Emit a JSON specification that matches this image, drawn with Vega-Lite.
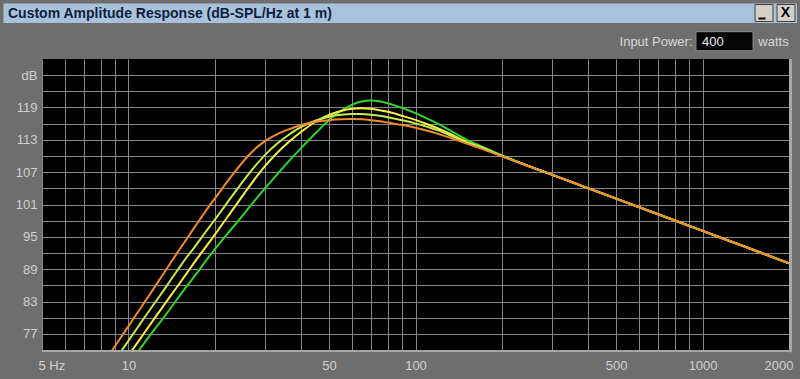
{
  "$schema": "https://vega.github.io/schema/vega-lite/v6.json",
  "width": 747,
  "height": 291,
  "autosize": {"type": "none"},
  "padding": {"left": 42, "top": 59, "right": 11, "bottom": 29},
  "background": "#6e6e6e",
  "view": {"fill": "#000000", "stroke": null},
  "config": {"font": "Liberation Sans"},
  "resolve": {"axis": {"x": "independent", "y": "independent"}},
  "datasets": {
    "curves": [
      {"s":"orange","f":8,"db":70.7},{"s":"orange","f":9,"db":74.8},{"s":"orange","f":10,"db":78.4},{"s":"orange","f":11,"db":81.7},{"s":"orange","f":12,"db":84.7},{"s":"orange","f":13,"db":87.5},{"s":"orange","f":14,"db":90.1},{"s":"orange","f":15,"db":92.5},{"s":"orange","f":16,"db":94.7},{"s":"orange","f":17,"db":96.8},{"s":"orange","f":18,"db":98.7},{"s":"orange","f":19,"db":100.5},{"s":"orange","f":20,"db":102.1},{"s":"orange","f":22,"db":105.1},{"s":"orange","f":24,"db":107.7},{"s":"orange","f":26,"db":109.9},{"s":"orange","f":28,"db":111.6},{"s":"orange","f":30,"db":112.8},{"s":"orange","f":33,"db":114.05},{"s":"orange","f":36,"db":114.9},{"s":"orange","f":40,"db":115.75},{"s":"orange","f":45,"db":116.35},{"s":"orange","f":50,"db":116.65},{"s":"orange","f":55,"db":116.8},{"s":"orange","f":60,"db":116.85},{"s":"orange","f":65,"db":116.8},{"s":"orange","f":70,"db":116.65},{"s":"orange","f":75,"db":116.45},{"s":"orange","f":80,"db":116.2},{"s":"orange","f":90,"db":115.75},{"s":"orange","f":100,"db":115.25},{"s":"orange","f":110,"db":114.7},{"s":"orange","f":120,"db":114.1},{"s":"orange","f":135,"db":113.2},{"s":"orange","f":150,"db":112.35},{"s":"orange","f":175,"db":111.1},{"s":"orange","f":200,"db":109.95},{"s":"orange","f":250,"db":108.05},{"s":"orange","f":300,"db":106.5},{"s":"orange","f":400,"db":104.0},{"s":"orange","f":500,"db":102.1},{"s":"orange","f":700,"db":99.2},{"s":"orange","f":1000,"db":96.1},{"s":"orange","f":1400,"db":93.2},{"s":"orange","f":2000,"db":90.1},
      {"s":"yellowgreen","f":8,"db":68.3},{"s":"yellowgreen","f":9,"db":72.2},{"s":"yellowgreen","f":10,"db":75.7},{"s":"yellowgreen","f":11,"db":78.9},{"s":"yellowgreen","f":12,"db":81.8},{"s":"yellowgreen","f":13,"db":84.4},{"s":"yellowgreen","f":14,"db":86.9},{"s":"yellowgreen","f":15,"db":89.2},{"s":"yellowgreen","f":16,"db":91.3},{"s":"yellowgreen","f":17,"db":93.1},{"s":"yellowgreen","f":18,"db":94.9},{"s":"yellowgreen","f":19,"db":96.6},{"s":"yellowgreen","f":20,"db":98.2},{"s":"yellowgreen","f":22,"db":101.2},{"s":"yellowgreen","f":24,"db":103.95},{"s":"yellowgreen","f":26,"db":106.4},{"s":"yellowgreen","f":28,"db":108.5},{"s":"yellowgreen","f":30,"db":110.25},{"s":"yellowgreen","f":33,"db":112.3},{"s":"yellowgreen","f":36,"db":113.85},{"s":"yellowgreen","f":40,"db":115.4},{"s":"yellowgreen","f":45,"db":116.6},{"s":"yellowgreen","f":50,"db":117.3},{"s":"yellowgreen","f":55,"db":117.65},{"s":"yellowgreen","f":60,"db":117.8},{"s":"yellowgreen","f":65,"db":117.8},{"s":"yellowgreen","f":70,"db":117.65},{"s":"yellowgreen","f":75,"db":117.45},{"s":"yellowgreen","f":80,"db":117.2},{"s":"yellowgreen","f":90,"db":116.65},{"s":"yellowgreen","f":100,"db":116.05},{"s":"yellowgreen","f":110,"db":115.4},{"s":"yellowgreen","f":120,"db":114.75},{"s":"yellowgreen","f":135,"db":113.6},{"s":"yellowgreen","f":150,"db":112.5},{"s":"yellowgreen","f":175,"db":111.2},{"s":"yellowgreen","f":200,"db":110.0},{"s":"yellowgreen","f":250,"db":108.05},{"s":"yellowgreen","f":300,"db":106.5},{"s":"yellowgreen","f":400,"db":104.0},{"s":"yellowgreen","f":500,"db":102.1},{"s":"yellowgreen","f":700,"db":99.2},{"s":"yellowgreen","f":1000,"db":96.1},{"s":"yellowgreen","f":1400,"db":93.2},{"s":"yellowgreen","f":2000,"db":90.1},
      {"s":"yellow","f":8,"db":65.8},{"s":"yellow","f":9,"db":69.6},{"s":"yellow","f":10,"db":73.0},{"s":"yellow","f":11,"db":76.1},{"s":"yellow","f":12,"db":79.0},{"s":"yellow","f":13,"db":81.6},{"s":"yellow","f":14,"db":84.0},{"s":"yellow","f":15,"db":86.2},{"s":"yellow","f":16,"db":88.3},{"s":"yellow","f":17,"db":90.3},{"s":"yellow","f":18,"db":92.1},{"s":"yellow","f":19,"db":93.8},{"s":"yellow","f":20,"db":95.4},{"s":"yellow","f":22,"db":98.5},{"s":"yellow","f":24,"db":101.3},{"s":"yellow","f":26,"db":103.9},{"s":"yellow","f":28,"db":106.2},{"s":"yellow","f":30,"db":108.2},{"s":"yellow","f":33,"db":110.6},{"s":"yellow","f":36,"db":112.5},{"s":"yellow","f":40,"db":114.5},{"s":"yellow","f":45,"db":116.4},{"s":"yellow","f":50,"db":117.6},{"s":"yellow","f":55,"db":118.35},{"s":"yellow","f":60,"db":118.75},{"s":"yellow","f":65,"db":118.85},{"s":"yellow","f":70,"db":118.75},{"s":"yellow","f":75,"db":118.5},{"s":"yellow","f":80,"db":118.2},{"s":"yellow","f":90,"db":117.45},{"s":"yellow","f":100,"db":116.7},{"s":"yellow","f":110,"db":115.9},{"s":"yellow","f":120,"db":115.1},{"s":"yellow","f":135,"db":113.85},{"s":"yellow","f":150,"db":112.65},{"s":"yellow","f":175,"db":111.3},{"s":"yellow","f":200,"db":110.0},{"s":"yellow","f":250,"db":108.05},{"s":"yellow","f":300,"db":106.5},{"s":"yellow","f":400,"db":104.0},{"s":"yellow","f":500,"db":102.1},{"s":"yellow","f":700,"db":99.2},{"s":"yellow","f":1000,"db":96.1},{"s":"yellow","f":1400,"db":93.2},{"s":"yellow","f":2000,"db":90.1},
      {"s":"green","f":8,"db":64.5},{"s":"green","f":9,"db":68.1},{"s":"green","f":10,"db":71.3},{"s":"green","f":11,"db":74.3},{"s":"green","f":12,"db":77.0},{"s":"green","f":13,"db":79.4},{"s":"green","f":14,"db":81.7},{"s":"green","f":15,"db":83.9},{"s":"green","f":16,"db":85.9},{"s":"green","f":17,"db":87.7},{"s":"green","f":18,"db":89.5},{"s":"green","f":19,"db":91.2},{"s":"green","f":20,"db":92.7},{"s":"green","f":22,"db":95.4},{"s":"green","f":24,"db":97.8},{"s":"green","f":26,"db":100.1},{"s":"green","f":28,"db":102.2},{"s":"green","f":30,"db":104.1},{"s":"green","f":33,"db":106.6},{"s":"green","f":36,"db":108.9},{"s":"green","f":40,"db":111.5},{"s":"green","f":45,"db":114.3},{"s":"green","f":50,"db":116.7},{"s":"green","f":55,"db":118.4},{"s":"green","f":60,"db":119.5},{"s":"green","f":65,"db":120.1},{"s":"green","f":70,"db":120.3},{"s":"green","f":75,"db":120.15},{"s":"green","f":80,"db":119.8},{"s":"green","f":90,"db":118.9},{"s":"green","f":100,"db":117.95},{"s":"green","f":110,"db":116.95},{"s":"green","f":120,"db":115.95},{"s":"green","f":135,"db":114.45},{"s":"green","f":150,"db":113.1},{"s":"green","f":175,"db":111.5},{"s":"green","f":200,"db":110.15},{"s":"green","f":250,"db":108.05},{"s":"green","f":300,"db":106.5},{"s":"green","f":400,"db":104.0},{"s":"green","f":500,"db":102.1},{"s":"green","f":700,"db":99.2},{"s":"green","f":1000,"db":96.1},{"s":"green","f":1400,"db":93.2},{"s":"green","f":2000,"db":90.1}
    ]
  },
  "layer": [
    {
      "data": {"name": "curves"},
      "transform": [{"filter": "datum.s == 'green'"}],
      "mark": {"type": "line", "clip": true, "interpolate": "monotone", "strokeWidth": 2, "color": "#2fd42f"},
      "encoding": {
        "x": {
          "field": "f", "type": "quantitative",
          "scale": {"type": "log", "domain": [5, 2000], "nice": false},
          "axis": {
            "orient": "bottom",
            "values": [5,6,7,8,9,10,20,30,40,50,60,70,80,90,100,200,300,400,500,600,700,800,900,1000,2000],
            "labelExpr": "datum.value == 5 ? '5 Hz' : indexof([10,50,100,500,1000,2000], datum.value) >= 0 ? '' + datum.value : ''",
            "grid": true, "gridColor": "#868686", "gridWidth": 1, "gridOpacity": 1,
            "domain": false, "ticks": false, "tickSize": 0,
            "labelPadding": 9, "labelFlush": true, "labelFlushOffset": 4, "labelOverlap": false, "labelBound": false,
            "labelColor": "#d0d0d0", "labelFont": "Liberation Sans", "labelFontSize": 13,
            "title": null
          }
        },
        "y": {
          "field": "db", "type": "quantitative",
          "scale": {"domain": [74, 128], "nice": false, "zero": false},
          "axis": {
            "orient": "left",
            "values": [77,80,83,86,89,92,95,98,101,104,107,110,113,116,119,122,125],
            "labelExpr": "datum.value == 125 ? 'dB' : (datum.value - 77) % 6 == 0 ? '' + datum.value : ''",
            "grid": true, "gridColor": "#868686", "gridWidth": 1, "gridOpacity": 1,
            "domain": false, "ticks": false, "tickSize": 0,
            "labelPadding": 5, "labelOverlap": false, "labelBound": false,
            "labelColor": "#d0d0d0", "labelFont": "Liberation Sans", "labelFontSize": 13,
            "title": null
          }
        }
      }
    },
    {
      "data": {"name": "curves"},
      "transform": [{"filter": "datum.s == 'yellow'"}],
      "mark": {"type": "line", "clip": true, "interpolate": "monotone", "strokeWidth": 2, "color": "#f4ee48"},
      "encoding": {
        "x": {"field": "f", "type": "quantitative", "scale": {"type": "log", "domain": [5, 2000], "nice": false}, "axis": null},
        "y": {"field": "db", "type": "quantitative", "scale": {"domain": [74, 128], "nice": false, "zero": false}, "axis": null}
      }
    },
    {
      "data": {"name": "curves"},
      "transform": [{"filter": "datum.s == 'yellowgreen'"}],
      "mark": {"type": "line", "clip": true, "interpolate": "monotone", "strokeWidth": 2, "color": "#c8ea4c"},
      "encoding": {
        "x": {"field": "f", "type": "quantitative", "scale": {"type": "log", "domain": [5, 2000], "nice": false}, "axis": null},
        "y": {"field": "db", "type": "quantitative", "scale": {"domain": [74, 128], "nice": false, "zero": false}, "axis": null}
      }
    },
    {
      "data": {"name": "curves"},
      "transform": [{"filter": "datum.s == 'orange'"}],
      "mark": {"type": "line", "clip": true, "interpolate": "monotone", "strokeWidth": 2, "color": "#f08c2e"},
      "encoding": {
        "x": {"field": "f", "type": "quantitative", "scale": {"type": "log", "domain": [5, 2000], "nice": false}, "axis": null},
        "y": {"field": "db", "type": "quantitative", "scale": {"domain": [74, 128], "nice": false, "zero": false}, "axis": null}
      }
    },
    {
      "data": {"values": [{}]},
      "mark": {"type": "rule", "color": "#a8a8a8", "strokeWidth": 3},
      "encoding": {
        "x": {"datum": 2024.2, "type": "quantitative", "scale": {"type": "log", "domain": [5, 2000], "nice": false}, "axis": null},
        "y": {"datum": 73.6, "type": "quantitative", "scale": {"domain": [74, 128], "nice": false, "zero": false}, "axis": null},
        "y2": {"datum": 128}
      }
    },
    {
      "data": {"values": [{}]},
      "mark": {"type": "rule", "color": "#a8a8a8", "strokeWidth": 2},
      "encoding": {
        "x": {"datum": 5, "type": "quantitative", "scale": {"type": "log", "domain": [5, 2000], "nice": false}, "axis": null},
        "x2": {"datum": 2024.2},
        "y": {"datum": 73.815, "type": "quantitative", "scale": {"domain": [74, 128], "nice": false, "zero": false}, "axis": null}
      }
    },
    {
      "data": {"values": [{}]},
      "mark": {"type": "rect", "color": "#a9c2dc"},
      "encoding": {
        "x": {"datum": 3.671, "type": "quantitative", "scale": {"type": "log", "domain": [5, 2000], "nice": false}, "axis": null},
        "x2": {"datum": 2132.6},
        "y": {"datum": 138.3, "type": "quantitative", "scale": {"domain": [74, 128], "nice": false, "zero": false}, "axis": null},
        "y2": {"datum": 134.68}
      }
    },
    {
      "data": {"values": [{"label": "Custom Amplitude Response (dB-SPL/Hz at 1 m)"}]},
      "mark": {"type": "text", "align": "left", "baseline": "alphabetic", "font": "Liberation Sans", "fontWeight": "bold", "fontSize": 14, "color": "#0e1e3e"},
      "encoding": {
        "x": {"datum": 3.807, "type": "quantitative", "scale": {"type": "log", "domain": [5, 2000], "nice": false}, "axis": null},
        "y": {"datum": 135.553, "type": "quantitative", "scale": {"domain": [74, 128], "nice": false, "zero": false}, "axis": null},
        "text": {"field": "label"}
      }
    },
    {
      "data": {"values": [{}]},
      "mark": {"type": "rect", "color": "#d4d0c8", "stroke": "#404040", "strokeWidth": 1},
      "encoding": {
        "x": {"datum": 1523, "type": "quantitative", "scale": {"type": "log", "domain": [5, 2000], "nice": false}, "axis": null},
        "x2": {"datum": 1759},
        "y": {"datum": 138.11, "type": "quantitative", "scale": {"domain": [74, 128], "nice": false, "zero": false}, "axis": null},
        "y2": {"datum": 134.96}
      }
    },
    {
      "data": {"values": [{}]},
      "mark": {"type": "rect", "color": "#d4d0c8", "stroke": "#404040", "strokeWidth": 1},
      "encoding": {
        "x": {"datum": 1816.6, "type": "quantitative", "scale": {"type": "log", "domain": [5, 2000], "nice": false}, "axis": null},
        "x2": {"datum": 2098.6},
        "y": {"datum": 138.11, "type": "quantitative", "scale": {"domain": [74, 128], "nice": false, "zero": false}, "axis": null},
        "y2": {"datum": 134.96}
      }
    },
    {
      "data": {"values": [{}]},
      "mark": {"type": "rule", "color": "#000000", "strokeWidth": 2},
      "encoding": {
        "x": {"datum": 1566, "type": "quantitative", "scale": {"type": "log", "domain": [5, 2000], "nice": false}, "axis": null},
        "x2": {"datum": 1656.6},
        "y": {"datum": 135.515, "type": "quantitative", "scale": {"domain": [74, 128], "nice": false, "zero": false}, "axis": null}
      }
    },
    {
      "data": {"values": [{"label": "X"}]},
      "mark": {"type": "text", "align": "center", "baseline": "middle", "font": "Liberation Sans", "fontWeight": "bold", "fontSize": 14, "color": "#000000"},
      "encoding": {
        "x": {"datum": 1944.6, "type": "quantitative", "scale": {"type": "log", "domain": [5, 2000], "nice": false}, "axis": null},
        "y": {"datum": 136.48, "type": "quantitative", "scale": {"domain": [74, 128], "nice": false, "zero": false}, "axis": null},
        "text": {"field": "label"}
      }
    },
    {
      "data": {"values": [{"label": "Input Power:"}]},
      "mark": {"type": "text", "align": "right", "baseline": "alphabetic", "font": "Liberation Sans", "fontSize": 13, "color": "#d8d8d8"},
      "encoding": {
        "x": {"datum": 922.6, "type": "quantitative", "scale": {"type": "log", "domain": [5, 2000], "nice": false}, "axis": null},
        "y": {"datum": 130.505, "type": "quantitative", "scale": {"domain": [74, 128], "nice": false, "zero": false}, "axis": null},
        "text": {"field": "label"}
      }
    },
    {
      "data": {"values": [{}]},
      "mark": {"type": "rect", "color": "#050505", "stroke": "#8a8a8a", "strokeWidth": 1},
      "encoding": {
        "x": {"datum": 948.5, "type": "quantitative", "scale": {"type": "log", "domain": [5, 2000], "nice": false}, "axis": null},
        "x2": {"datum": 1498.6},
        "y": {"datum": 133.066, "type": "quantitative", "scale": {"domain": [74, 128], "nice": false, "zero": false}, "axis": null},
        "y2": {"datum": 129.54}
      }
    },
    {
      "data": {"values": [{"label": "400"}]},
      "mark": {"type": "text", "align": "left", "baseline": "alphabetic", "font": "Liberation Sans", "fontSize": 13, "color": "#ececec"},
      "encoding": {
        "x": {"datum": 995.6, "type": "quantitative", "scale": {"type": "log", "domain": [5, 2000], "nice": false}, "axis": null},
        "y": {"datum": 130.505, "type": "quantitative", "scale": {"domain": [74, 128], "nice": false, "zero": false}, "axis": null},
        "text": {"field": "label"}
      }
    },
    {
      "data": {"values": [{"label": "watts"}]},
      "mark": {"type": "text", "align": "left", "baseline": "alphabetic", "font": "Liberation Sans", "fontSize": 13, "color": "#d8d8d8"},
      "encoding": {
        "x": {"datum": 1563.4, "type": "quantitative", "scale": {"type": "log", "domain": [5, 2000], "nice": false}, "axis": null},
        "y": {"datum": 130.505, "type": "quantitative", "scale": {"domain": [74, 128], "nice": false, "zero": false}, "axis": null},
        "text": {"field": "label"}
      }
    }
  ]
}
